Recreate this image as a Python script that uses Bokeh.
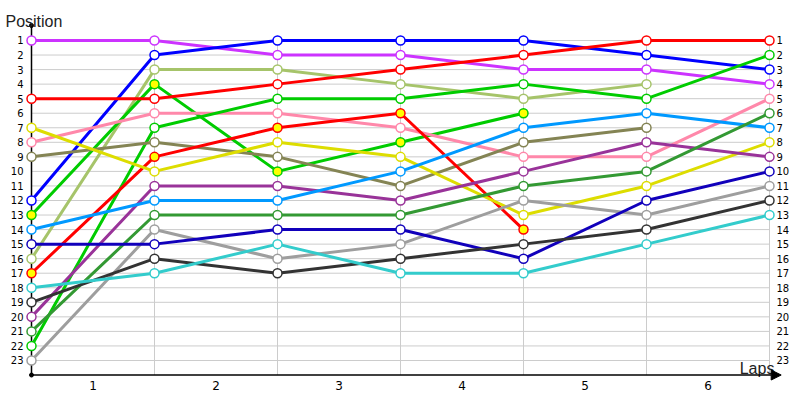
import math
from bokeh.plotting import figure
from bokeh.models import Range1d, Arrow, NormalHead
from bokeh.core.properties import value
from bokeh.embed import file_html
from bokeh.resources import INLINE

laps = [0, 1, 2, 3, 4, 5, 6]
lap_labels = ["1", "2", "3", "4", "5", "6"]
positions = list(range(1, 24))

names = ["violet", "blue", "lightolive", "green_pit", "red", "pink", "green",
         "olive", "red_pit", "yellow", "purple", "lightblue", "forest",
         "gray", "navy", "black", "cyan"]
colors = ["#cc33ff", "#0000ff", "#a6c46a", "#00cc00", "#ff0000", "#ff88aa",
          "#00cc00", "#848454", "#ff0000", "#dddd00", "#993399", "#0099ff",
          "#339933", "#9e9e9e", "#1100bb", "#333333", "#33cccc"]
fills = ["white", "white", "white", "#ffff00", "white", "white", "white",
         "white", "#ffff00", "white", "white", "white", "white", "white",
         "white", "white", "white"]

violet = [1, 1, 2, 2, 3, 3, 4]
blue = [12, 2, 1, 1, 1, 2, 3]
lightolive = [16, 3, 3, 4, 5, 4, None]
green_pit = [13, 4, 10, 8, 6, None, None]
red = [5, 5, 4, 3, 2, 1, 1]
pink = [8, 6, 6, 7, 9, 9, 5]
green = [22, 7, 5, 5, 4, 5, 2]
olive = [9, 8, 9, 11, 8, 7, None]
red_pit = [17, 9, 7, 6, 14, None, None]
yellow = [7, 10, 8, 9, 13, 11, 8]
purple = [20, 11, 11, 12, 10, 8, 9]
lightblue = [14, 12, 12, 10, 7, 6, 7]
forest = [21, 13, 13, 13, 11, 10, 6]
gray = [23, 14, 16, 15, 12, 13, 11]
navy = [15, 15, 14, 14, 16, 12, 10]
black = [19, 16, 17, 16, 15, 14, 12]
cyan = [18, 17, 15, 17, 17, 15, 13]

series = [violet, blue, lightolive, green_pit, red, pink, green, olive, red_pit,
          yellow, purple, lightblue, forest, gray, navy, black, cyan]

W, H = 792, 392
p = figure(width=W, height=H, output_backend="svg", toolbar_location=None,
           x_range=Range1d(-31 / 123, (W - 31) / 123),
           y_range=Range1d((H - 25.45) / 14.545, -25.45 / 14.545),
           min_border=0, outline_line_color=None)
p.xaxis.visible = False
p.yaxis.visible = False
p.grid.visible = False

font = value("DejaVu Sans")

# horizontal grid
p.segment(x0=[laps[0]] * len(positions), x1=[laps[-1]] * len(positions),
          y0=positions, y1=positions, line_color="#cccccc", line_width=1)
# vertical grid
p.segment(x0=laps[1:], x1=laps[1:], y0=[1] * 6, y1=[24] * 6,
          line_color="#cccccc", line_width=1)

# axes
p.segment(x0=[0], x1=[0], y0=[24], y1=[-0.03], line_color="black", line_width=1.5)
p.add_layout(Arrow(end=NormalHead(size=10, fill_color="black", line_color="black"),
                   x_start=0, y_start=24, x_end=6.095, y_end=24,
                   line_color="black", line_width=1.5))
p.scatter(x=[0, 0], y=[-0.03, 24], size=4, color="black")

# series
for vals, c, f in zip(series, colors, fills):
    ys = [float("nan") if v is None else v for v in vals]
    p.line(x=laps, y=ys, line_color=c, line_width=3)
for vals, c, f in zip(series, colors, fills):
    xs = [l for l, v in zip(laps, vals) if v is not None]
    ys = [v for v in vals if v is not None]
    p.scatter(x=xs, y=ys, size=9, fill_color=f, line_color=c, line_width=1.5)

# tick labels
p.text(x=[0] * len(positions), y=positions, text=[str(v) for v in positions],
       text_font=font, text_font_size="10px", text_align="right",
       text_baseline="middle", x_offset=-8, text_color="black")
p.text(x=[6] * len(positions), y=positions, text=[str(v) for v in positions],
       text_font=font, text_font_size="10px", text_align="left",
       text_baseline="middle", x_offset=7, text_color="black")
p.text(x=[l + 0.5 for l in laps[:-1]], y=[24] * 6, text=lap_labels,
       text_font=font, text_font_size="12px", text_align="center",
       text_baseline="middle", y_offset=10, text_color="black")

p.text(x=[-0.2114], y=[-0.31], text=["Position"], text_font=value("Liberation Sans"),
       text_font_size="16px", text_align="left", text_baseline="alphabetic",
       text_color="#222222")
p.text(x=[6.04], y=[23.55], text=["Laps"], text_font=value("Liberation Sans"),
       text_font_size="16px", text_align="right", text_baseline="alphabetic",
       text_color="#222222")

open("out.html", "w").write(file_html(p, INLINE))
